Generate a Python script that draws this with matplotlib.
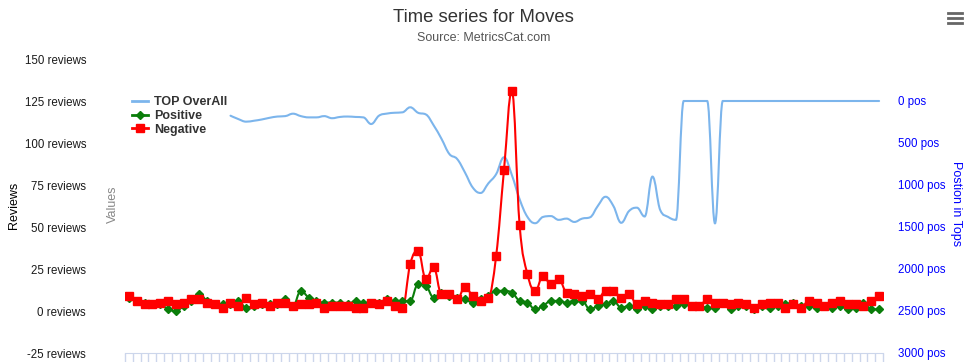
import numpy as np
import matplotlib
matplotlib.use('Agg')
import matplotlib.pyplot as plt
from matplotlib.path import Path
from matplotlib.patches import PathPatch
from matplotlib.lines import Line2D

plt.rcParams['font.family'] = 'Liberation Sans'

# ── data ──────────────────────────────────────────────────────────
negative = [9, 6, 4, 4, 5, 6, 4, 5, 7, 7, 5, 4, 2, 5, 3, 8, 4, 5, 3, 5,
            5, 3, 4, 4, 5, 2, 3, 3, 3, 2, 2, 5, 4, 6, 3, 2, 28, 36, 19, 26,
            10, 10, 7, 14, 9, 6, 8, 33, 84, 131, 51, 22, 12, 21, 16, 19, 11, 10, 9, 10,
            7, 12, 12, 8, 10, 4, 6, 5, 4, 4, 7, 7, 3, 3, 7, 5, 5, 4, 5, 4,
            2, 4, 5, 5, 2, 4, 2, 6, 5, 3, 5, 6, 4, 4, 3, 6, 9]
positive = [8, 6, 5, 4, 4, 1, 0, 3, 6, 10, 6, 4, 4, 4, 6, 2, 3, 4, 4, 4,
            7, 3, 12, 8, 6, 5, 5, 5, 4, 6, 5, 5, 5, 7, 6, 6, 6, 16, 15, 8,
            11, 9, 8, 7, 5, 7, 9, 12, 12, 11, 6, 5, 1, 3, 6, 6, 5, 6, 6, 1,
            3, 4, 6, 2, 3, 1, 3, 1, 3, 3, 3, 4, 3, 3, 2, 2, 5, 1, 3, 3,
            1, 3, 2, 3, 4, 5, 3, 3, 2, 3, 2, 3, 1, 2, 5, 1, 1]
top_overall = [None] * 13 + [
    175, 215, 246, 235, 220, 200, 185, 180, 151, 180,
    195, 195, 180, 205, 190, 185, 190, 195, 274, 175,
    150, 140, 135, 75, 140, 160, 290, 450, 630, 690,
    850, 1030, 1095, 980, 870, 670, 880, 1170, 1380, 1455,
    1380, 1370, 1415, 1400, 1440, 1400, 1385, 1250, 1140, 1250,
    1450, 1310, 1270, 1375, 900, 1300, 1380, 1415, 0, 0,
    0, 0, 1456, 0, 0, 0, 0, 0, 0, 0,
    0, 0, 0, 0, 0, 0, 0, 0, 0, 0,
    0, 0, 0, 0]

left_ticks = [-25, 0, 25, 50, 75, 100, 125, 150]
right_ticks = [0, 500, 1000, 1500, 2000, 2500, 3000]

C_TOP, C_POS, C_NEG = '#7cb5ec', '#0a7d0a', '#ff0000'


def spline_path(xs, ys, smoothing=1.5):
    # bezier spline through the points, same control-point rule as a web spline chart
    n = len(xs)
    denom = smoothing + 1
    left, right = [None] * n, [None] * n
    for i in range(1, n - 1):
        px, py = xs[i], ys[i]
        lx, ly = xs[i - 1], ys[i - 1]
        nx, ny = xs[i + 1], ys[i + 1]
        lcx = (smoothing * px + lx) / denom
        lcy = (smoothing * py + ly) / denom
        rcx = (smoothing * px + nx) / denom
        rcy = (smoothing * py + ny) / denom
        corr = (rcy - lcy) * (rcx - px) / (rcx - lcx) + py - rcy
        lcy += corr
        rcy += corr
        if lcy > ly and lcy > py:
            lcy = max(ly, py); rcy = 2 * py - lcy
        elif lcy < ly and lcy < py:
            lcy = min(ly, py); rcy = 2 * py - lcy
        if rcy > ny and rcy > py:
            rcy = max(ny, py); lcy = 2 * py - rcy
        elif rcy < ny and rcy < py:
            rcy = min(ny, py); lcy = 2 * py - rcy
        left[i], right[i] = (lcx, lcy), (rcx, rcy)
    verts, codes = [(xs[0], ys[0])], [Path.MOVETO]
    for i in range(1, n):
        verts += [right[i - 1] or (xs[i - 1], ys[i - 1]),
                  left[i] or (xs[i], ys[i]),
                  (xs[i], ys[i])]
        codes += [Path.CURVE4] * 3
    return Path(verts, codes)


fig = plt.figure(figsize=(9.67, 3.62), dpi=100)
ax = fig.add_axes([125 / 967, 9 / 362, 758 / 967, 294 / 362])
ax2 = ax.twinx()
ax.set_zorder(ax2.get_zorder() + 1)
ax.patch.set_visible(False)

x = np.arange(len(negative))

# TOP OverAll on the position axis
top_x = [i for i, v in enumerate(top_overall) if v is not None]
top_y = [v for v in top_overall if v is not None]
ax2.add_patch(PathPatch(spline_path(top_x, top_y), fill=False,
                        edgecolor=C_TOP, lw=1.5, capstyle='round'))
ax2.set_ylim(3000, -500)

ax.add_patch(PathPatch(spline_path(list(x), positive), fill=False,
                       edgecolor=C_POS, lw=1.5))
ax.plot(x, positive, 'D', color=C_POS, ms=4.5, ls='none')
ax.add_patch(PathPatch(spline_path(list(x), negative), fill=False,
                       edgecolor=C_NEG, lw=1.5))
ax.plot(x, negative, 's', color=C_NEG, ms=5.8, ls='none')

ax.set_xlim(-0.5, len(x) - 0.5)
ax.set_ylim(-25, 150)
ax.set_xticks(np.arange(len(x) + 1) - 0.5)
ax.tick_params(axis='x', length=10, width=1, color='#ccd6eb', labelbottom=False)
ax.set_yticks(left_ticks)
ax.set_yticklabels([f'{v} reviews' for v in left_ticks])
ax.tick_params(axis='y', length=0, pad=28, labelsize=8.3, labelcolor='#1a1a1a')
for s in ['top', 'left', 'right']:
    ax.spines[s].set_visible(False)
ax.spines['bottom'].set_color('#ccd6eb')

ax2.set_yticks(right_ticks)
ax2.set_yticklabels([f'{v} pos' for v in right_ticks])
ax2.tick_params(axis='y', length=0, pad=11, labelsize=8.3, labelcolor='blue')
for s in ax2.spines.values():
    s.set_visible(False)

# titles and axis titles
fig.text(0.5, 1 - 17 / 362, 'Time series for Moves', ha='center', va='center',
         fontsize=13.3, color='#333333')
fig.text(0.5, 1 - 38 / 362, 'Source: MetricsCat.com', ha='center', va='center',
         fontsize=9, color='#555555')
fig.text(14 / 967, 1 - 205 / 362, 'Reviews', rotation=90, ha='center', va='center',
         fontsize=9, color='black')
fig.text(113 / 967, 1 - 204 / 362, 'Values', rotation=90, ha='center', va='center',
         fontsize=9, color='#888888')
fig.text(956 / 967, 1 - 204 / 362, 'Postion in Tops', rotation=270, ha='center',
         va='center', fontsize=9, color='blue')

# menu icon
for yy in [13, 18, 23]:
    fig.add_artist(Line2D([948 / 967, 962 / 967], [1 - yy / 362] * 2,
                          color='#666666', lw=2))

handles = [Line2D([], [], color=C_TOP, lw=2),
           Line2D([], [], color=C_POS, lw=2, marker='D', ms=4.5),
           Line2D([], [], color=C_NEG, lw=2, marker='s', ms=5.8)]
leg = ax.legend(handles, ['TOP OverAll', 'Positive', 'Negative'],
                loc='upper left', bbox_to_anchor=(132 / 967, 1 - 96 / 362),
                bbox_transform=fig.transFigure, frameon=False,
                prop={'weight': 'bold', 'size': 9}, handlelength=1.25,
                handletextpad=0.5, labelspacing=0.15, borderpad=0, borderaxespad=0)
for t in leg.get_texts():
    t.set_color('#333333')

fig.savefig('out.png', dpi=100, facecolor='white')
